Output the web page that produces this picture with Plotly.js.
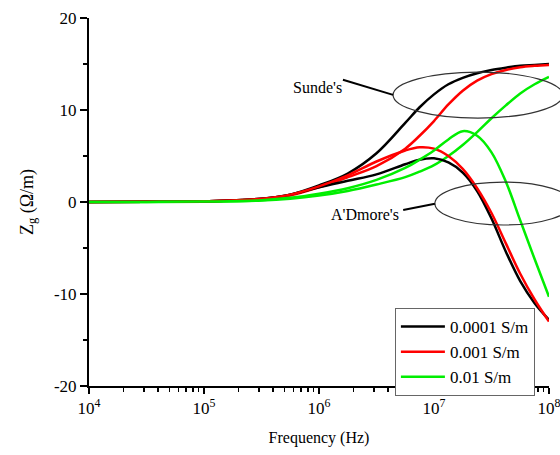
<!DOCTYPE html>
<html>
<head>
<meta charset="utf-8">
<script src="https://cdn.plot.ly/plotly-3.0.1.min.js"></script>
<style>html,body{margin:0;padding:0;background:#fff;}#chart{width:560px;height:455px;}</style>
</head>
<body>
<div id="chart"></div>
<script>
// Frequencies (Hz)
var freq = [1e4, 3.162e4, 1e5, 3.162e5, 5.623e5, 1e6, 1.778e6, 3.162e6, 5.623e6, 7.499e6, 1e7, 1.334e7, 1.778e7, 2.371e7, 3.162e7, 4.217e7, 5.623e7, 7.499e7, 1e8];

// Sunde's formula, Zg (ohm/m)
var sunde_1e4 = [0, 0.02, 0.08, 0.35, 0.8, 1.8, 3.1, 5.3, 8.6, 10.3, 11.7, 12.8, 13.5, 14.0, 14.35, 14.6, 14.8, 14.9, 15.0];
var sunde_1e3 = [0, 0.02, 0.07, 0.3, 0.7, 1.6, 2.7, 3.9, 5.8, 7.2, 8.8, 10.6, 12.1, 13.2, 13.9, 14.35, 14.65, 14.8, 14.9];
var sunde_1e2 = [0, 0.01, 0.04, 0.15, 0.35, 0.7, 1.2, 1.9, 2.7, 3.3, 4.0, 5.0, 6.2, 7.6, 9.1, 10.5, 11.8, 12.8, 13.6];

// A'Dmore's formula, Zg (ohm/m)
var admore_1e4 = [0, 0.02, 0.08, 0.35, 0.8, 1.6, 2.3, 3.0, 4.1, 4.6, 4.75, 4.3, 3.2, 1.2, -1.8, -5.4, -8.6, -11.0, -12.8];
var admore_1e3 = [0, 0.02, 0.08, 0.35, 0.8, 1.7, 2.9, 4.4, 5.6, 5.95, 5.8, 5.0, 3.6, 1.5, -1.2, -4.5, -7.8, -10.6, -13.0];
var admore_1e2 = [0, 0.01, 0.05, 0.2, 0.45, 0.9, 1.5, 2.4, 3.7, 4.6, 5.6, 6.8, 7.7, 7.2, 5.4, 2.2, -2.0, -6.2, -10.3];

var seriesNames = ['0.0001 S/m', '0.001 S/m', '0.01 S/m'];
var colors = ['#000000', '#ff0000', '#00ee00'];
var sundeSets = [sunde_1e4, sunde_1e3, sunde_1e2];
var admoreSets = [admore_1e4, admore_1e3, admore_1e2];

var xTickVals = [1e4, 1e5, 1e6, 1e7, 1e8];
var xTickText = ['10<sup>4</sup>', '10<sup>5</sup>', '10<sup>6</sup>', '10<sup>7</sup>', '10<sup>8</sup>'];
var yTickVals = [-20, -10, 0, 10, 20];
var yTickText = ['-20', '-10', '0', '10', '20'];

var font = 'Liberation Serif, Times New Roman, serif';
var traces = [];
for (var i = 0; i < 3; i++) {
  traces.push({x: freq, y: sundeSets[i], type: 'scatter', mode: 'lines', name: seriesNames[i],
    legendgroup: 'g' + i, line: {color: colors[i], width: 2.5, shape: 'spline'}});
}
for (var i = 0; i < 3; i++) {
  traces.push({x: freq, y: admoreSets[i], type: 'scatter', mode: 'lines', name: seriesNames[i],
    legendgroup: 'g' + i, showlegend: false, line: {color: colors[i], width: 2.5, shape: 'spline'}});
}

var layout = {
  width: 560, height: 455,
  margin: {l: 89, r: 11, t: 18, b: 69},
  paper_bgcolor: '#fff', plot_bgcolor: '#fff',
  font: {family: font, size: 16, color: '#000'},
  showlegend: true,
  legend: {x: 0.665, y: 0.212, xanchor: 'left', yanchor: 'top', bgcolor: '#fff',
    bordercolor: '#666', borderwidth: 1, font: {family: font, size: 17}, tracegroupgap: 0, itemwidth: 44},
  xaxis: {type: 'log', range: [3.9999, 8.0001], tickmode: 'array', tickvals: xTickVals, ticktext: xTickText,
    ticklabeloverflow: 'allow',
    showgrid: false, zeroline: false,
    showline: true, linecolor: '#000', linewidth: 2, ticks: 'outside', ticklen: 6, tickwidth: 1.5, tickcolor: '#000',
    minor: {dtick: 'D1', ticks: 'outside', ticklen: 4, tickwidth: 1.5, tickcolor: '#000', showgrid: false},
    tickfont: {family: font, size: 17},
    title: {text: 'Frequency (Hz)', font: {family: font, size: 16}, standoff: 14}},
  yaxis: {range: [-20, 20], tickmode: 'array', tickvals: yTickVals, ticktext: yTickText,
    showgrid: false, zeroline: false,
    showline: true, linecolor: '#000', linewidth: 2, ticks: 'outside', ticklen: 7, tickwidth: 1.5, tickcolor: '#000',
    minor: {dtick: 5, ticks: 'outside', ticklen: 4, tickwidth: 1.5, tickcolor: '#000', showgrid: false},
    tickfont: {family: font, size: 17},
    title: {text: 'Z<sub>g</sub> (Ω/m)', font: {family: font, size: 18}, standoff: 16}},
  shapes: [
    {type: 'circle', xref: 'paper', yref: 'paper', x0: 0.661, x1: 1.03, y0: 0.728, y1: 0.853,
      line: {color: '#333', width: 1.2}},
    {type: 'circle', xref: 'paper', yref: 'paper', x0: 0.752, x1: 1.05, y0: 0.4375, y1: 0.554,
      line: {color: '#333', width: 1.2}},
    {type: 'line', xref: 'paper', yref: 'paper', x0: 0.552, y0: 0.832, x1: 0.661, y1: 0.791,
      line: {color: '#000', width: 2}},
    {type: 'line', xref: 'paper', yref: 'paper', x0: 0.683, y0: 0.478, x1: 0.752, y1: 0.495,
      line: {color: '#000', width: 2}}
  ],
  annotations: [
    {text: "Sunde's", xref: 'paper', yref: 'paper', x: 0.496, y: 0.840, showarrow: false,
      font: {family: font, size: 16}},
    {text: "A'Dmore's", xref: 'paper', yref: 'paper', x: 0.600, y: 0.465, showarrow: false,
      font: {family: font, size: 16}}
  ]
};

Plotly.newPlot('chart', traces, layout, {displayModeBar: false, staticPlot: true});
</script>
</body>
</html>
